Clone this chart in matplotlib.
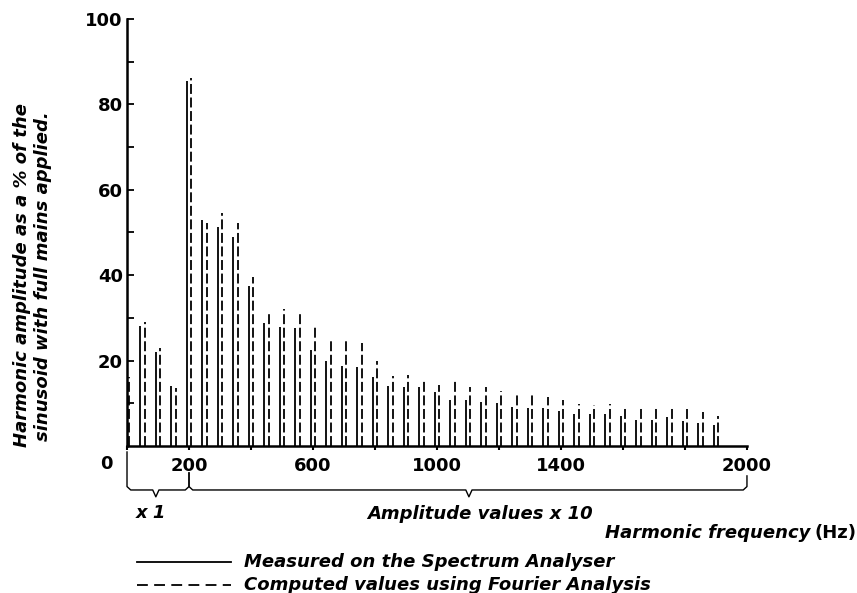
import numpy as np
import matplotlib.pyplot as plt
from matplotlib.lines import Line2D

# harmonic frequencies (Hz) and amplitudes (% of sinusoid)
harmonic_hz = [0, 50, 100, 150, 200, 250, 300, 350, 400, 450, 500, 550, 600,
               650, 700, 750, 800, 850, 900, 950, 1000, 1050, 1100, 1150, 1200,
               1250, 1300, 1350, 1400, 1450, 1500, 1550, 1600, 1650, 1700, 1750,
               1800, 1850, 1900]
measured = [16, 28, 22, 14, 85.4, 52.9, 51.3, 49.0, 37.4, 28.8, 27.9, 27.7, 22.5,
            19.9, 18.8, 18.6, 16.2, 14.0, 13.9, 13.9, 12.7, 10.8, 10.8, 10.2, 10.0,
            9.1, 8.8, 9.0, 8.3, 7.6, 7.4, 7.6, 7.1, 6.1, 6.2, 6.7,
            5.9, 5.3, 4.9]
computed = [16.2, 29, 23, 13.5, 86.2, 52.2, 54.6, 52.2, 39.5, 31.3, 32.0, 30.9, 27.8,
            25.0, 24.8, 24.2, 20.0, 16.4, 16.6, 15.8, 14.3, 15.8, 13.9, 13.9, 12.9,
            12.5, 12.0, 11.5, 10.8, 9.8, 9.6, 9.8, 9.4, 9.0, 8.8, 8.8,
            8.6, 8.0, 7.1]

xtick_pos = [0, 200, 400, 600, 800, 1000, 1200, 1400, 1600, 1800, 2000]
xtick_lab = ['', '200', '', '600', '', '1000', '', '1400', '', '', '2000']

FS = 13
f = np.array(harmonic_hz)
fig = plt.figure(figsize=(8.57, 5.93), dpi=100)
ax = fig.add_axes([0.1482, 0.2479, 0.7234, 0.7201])

ax.vlines(f - 7, 0, measured, colors='black', lw=1.3)
ax.vlines(f + 7, 0, computed, colors='black', lw=1.3, linestyles=(0, (5.5, 2)))

ax.set_xlim(0, 2000)
ax.set_ylim(0, 100)
for s in ['top', 'right']:
    ax.spines[s].set_visible(False)
for s in ['left', 'bottom']:
    ax.spines[s].set_linewidth(1.8)

ax.set_xticks(xtick_pos)
ax.set_xticklabels(xtick_lab, fontweight='bold')
ax.set_yticks([20, 40, 60, 80, 100])
ax.set_yticklabels(['20', '40', '60', '80', '100'], fontweight='bold')
ax.set_yticks([10, 30, 50, 70, 90], minor=True)
ax.tick_params(axis='x', direction='out', length=3, width=1.5, pad=5, labelsize=FS)
ax.tick_params(axis='y', which='both', direction='in', length=5, width=1.3, pad=3, labelsize=FS)

# "0" label sits left of the axis
ax.text(-65, -4.3, '0', ha='center', va='center', fontsize=FS, fontweight='bold', clip_on=False)

# braces under the axis
def brace(x0, x1, xc, ytop0, ytop1):
    yb = -10.3
    xs = [x0, x0, x0 + 12, xc - 10, xc, xc + 10, x1 - 12, x1, x1]
    ys = [ytop0, yb + 0.8, yb, yb, -11.9, yb, yb, yb + 0.8, ytop1]
    ax.plot(xs, ys, color='black', lw=1.0, clip_on=False)

brace(0, 200, 93, -1.4, -6.3)
brace(200, 2000, 1103, -6.3, -7.0)

itf = dict(style='italic', fontweight='bold', fontsize=FS, clip_on=False)
ax.text(77, -15.8, 'x 1', ha='center', va='center', **itf)
ax.text(1140, -16.0, 'Amplitude values x 10', ha='center', va='center', **itf)

fig.text(810 / 857, 1 - 533 / 593, 'Harmonic frequency', ha='right', va='center',
         style='italic', fontweight='bold', fontsize=FS)
fig.text(856 / 857, 1 - 533 / 593, '(Hz)', ha='right', va='center',
         fontweight='bold', fontsize=FS)

# y label, two lines
fig.text(22 / 857, 1 - 275 / 593, 'Harmonic amplitude as a % of the', rotation=90,
         ha='center', va='center', style='italic', fontweight='bold', fontsize=FS)
fig.text(43 / 857, 1 - 276 / 593, 'sinusoid with full mains applied.', rotation=90,
         ha='center', va='center', style='italic', fontweight='bold', fontsize=FS)

# legend drawn by hand
fig.add_artist(Line2D([137 / 857, 231 / 857], [1 - 562 / 593] * 2, color='black', lw=1.3,
                      transform=fig.transFigure))
fig.add_artist(Line2D([137 / 857, 231 / 857], [1 - 585 / 593] * 2, color='black', lw=1.3,
                      linestyle=(0, (6, 3.5)), transform=fig.transFigure))
fig.text(244 / 857, 1 - 562 / 593, 'Measured on the Spectrum Analyser', va='center',
         style='italic', fontweight='bold', fontsize=FS)
fig.text(244 / 857, 1 - 585 / 593, 'Computed values using Fourier Analysis', va='center',
         style='italic', fontweight='bold', fontsize=FS)

fig.savefig('out.png', dpi=100)
